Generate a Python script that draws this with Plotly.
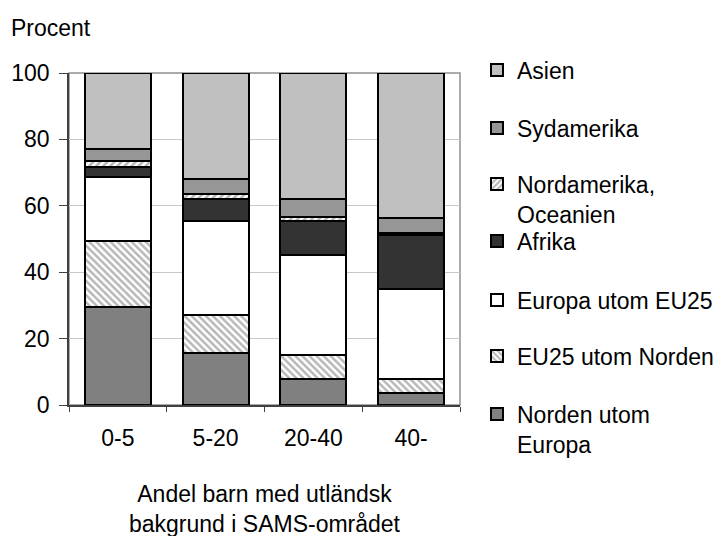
import plotly.graph_objects as go

categories = ["0-5", "5-20", "20-40", "40-"]

# andel per ursprungsregion, procent (nedifrån och upp)
norden = [29.4, 15.6, 7.7, 3.7]
eu25 = [20.0, 11.5, 7.3, 4.0]
europa = [19.2, 28.2, 30.1, 27.1]
afrika = [3.2, 6.8, 10.4, 16.4]
nordam = [1.8, 1.6, 1.2, 0.5]
sydam = [3.5, 4.5, 5.3, 4.5]
asien = [22.9, 31.8, 38.0, 43.8]

series = [
    ("Norden utom<br>Europa", norden, "#808080", ""),
    ("EU25 utom Norden", eu25, "white", "\\"),
    ("Europa utom EU25", europa, "white", ""),
    ("Afrika", afrika, "#333333", ""),
    ("Nordamerika,<br>Oceanien", nordam, "white", "/"),
    ("Sydamerika", sydam, "#969696", ""),
    ("Asien", asien, "#c0c0c0", ""),
]

# legend box centre (window pixel y), one legend box per series
legend_rows = [429, 356, 300, 241, 199, 128, 70]

# page body has an 8px margin, so the figure is drawn 8px in from the window corner
OFF = 8
W, H = 728 - OFF, 536 - OFF
font = dict(family="Liberation Sans, Arial, sans-serif", size=23, color="black")

fig = go.Figure()
for i, (name, vals, col, shape) in enumerate(series):
    lg = "legend" if i == 0 else "legend%d" % (i + 1)
    marker = dict(color=col, line=dict(color="black", width=2))
    if shape:
        marker["pattern"] = dict(shape=shape, fgcolor="#707070", bgcolor="white",
                                 size=5, solidity=0.5)
    fig.add_trace(go.Bar(x=categories, y=vals, name=name, marker=marker,
                         legend=lg, showlegend=True))
    fig.update_layout(**{lg: dict(
        x=(477 - OFF) / W, y=1 - (legend_rows[i] - OFF) / H,
        xref="container", yref="container",
        xanchor="left", yanchor="middle", valign="top",
        font=font, bgcolor="rgba(0,0,0,0)", itemclick=False)})

fig.update_layout(
    barmode="stack", bargap=0.325,
    width=W, height=H, showlegend=True,
    margin=dict(l=69 - OFF, r=728 - 460, t=73 - OFF, b=536 - 405, autoexpand=False),
    plot_bgcolor="white", paper_bgcolor="white",
    font=font,
    xaxis=dict(showline=True, linecolor="#404040", linewidth=1.5,
               ticks="outside", tickson="boundaries", ticklen=5, tickcolor="#404040",
               ticklabelstandoff=12, showgrid=False),
    yaxis=dict(range=[0, 100], dtick=20, showline=True, linecolor="#404040", linewidth=1.5,
               ticks="outside", ticklen=8, tickcolor="#404040", ticklabelstandoff=5,
               showgrid=True, gridcolor="#c8c8c8", gridwidth=1, zeroline=False),
    shapes=[dict(type="rect", xref="paper", yref="paper", x0=0, x1=1, y0=0, y1=1,
                 line=dict(color="#909090", width=1.5), layer="below")],
    annotations=[
        dict(text="Procent", xref="paper", yref="paper", x=-0.1535, y=1.1355,
             xanchor="left", yanchor="middle", showarrow=False, font=font),
        dict(text="Andel barn med utländsk<br>bakgrund i SAMS-området",
             xref="paper", yref="paper", x=0.5, y=-0.312,
             xanchor="center", yanchor="middle", showarrow=False, font=font),
    ],
)

fig.write_html("out.html")
